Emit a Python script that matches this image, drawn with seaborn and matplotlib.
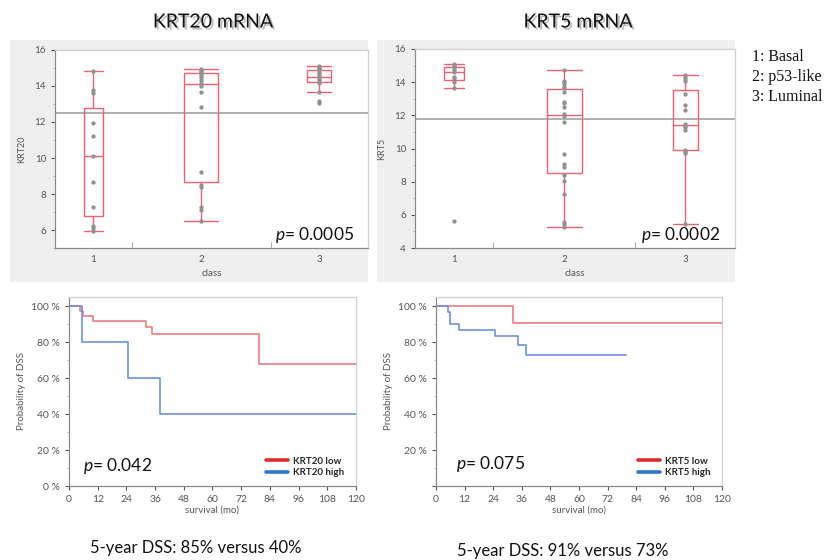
import numpy as np
import pandas as pd
import matplotlib
matplotlib.use("Agg")
import matplotlib.pyplot as plt
import matplotlib.patheffects as pe
from matplotlib.patches import Rectangle
from matplotlib.ticker import FuncFormatter, MultipleLocator, FixedLocator
import seaborn as sns

# ---------------- data ----------------
classes = ["1", "2", "3"]
class_sizes = [11, 20, 14]
class_legend = ["1: Basal", "2: p53-like", "3: Luminal"]

krt20_c1 = [14.85, 13.75, 13.6, 11.95, 11.2, 10.13, 8.65, 7.3, 6.24, 6.1, 5.93]
krt20_c2 = [6.5, 7.11, 7.3, 8.41, 8.5, 9.2, 12.81, 13.68, 14.0, 14.18, 14.33,
            14.48, 14.61, 14.74, 14.8, 14.85, 14.89, 14.93]
krt20_c3 = [13.04, 13.15, 13.68, 14.18, 14.3, 14.4, 14.48, 14.56, 14.65, 14.8,
            14.92, 14.98, 15.05, 15.11]
krt20_mean = 12.48
krt20_p = "0.0005"

krt5_c1 = [5.6, 13.64, 14.04, 14.25, 14.34, 14.6, 14.75, 14.85, 14.95, 15.0, 15.1]
krt5_c2 = [5.25, 5.45, 5.59, 7.27, 8.04, 8.38, 8.9, 9.09, 9.64, 11.61, 11.96,
           12.08, 12.52, 12.73, 12.83, 13.43, 13.63, 13.73, 13.9, 14.04, 14.1, 14.75]
krt5_c3 = [5.45, 9.73, 9.8, 9.85, 9.92, 11.11, 11.31, 11.35, 11.47, 12.32, 12.62,
           13.3, 14.1, 14.2, 14.3, 14.44]
krt5_mean = 11.79
krt5_p = "0.0002"

km20_low_t = [0, 4.8, 5.8, 10, 32, 34.5, 79.5, 120]
km20_low_s = [100, 97.5, 94.6, 91.9, 88.2, 84.5, 67.6, 67.6]
km20_high_t = [0, 5.5, 24.5, 38, 120]
km20_high_s = [100, 80, 60, 40, 40]
km20_p = "0.042"
km20_summary = "5-year DSS: 85% versus 40%"

km5_low_t = [0, 32.5, 120]
km5_low_s = [100, 90.7, 90.7]
km5_high_t = [0, 5.2, 5.9, 9.8, 24.8, 34.6, 37.8, 79.8]
km5_high_s = [100, 96.6, 90.1, 86.7, 83.2, 78.1, 72.9, 72.9]
km5_p = "0.075"
km5_summary = "5-year DSS: 91% versus 73%"

# ---------------- style ----------------
sns.set_style("ticks")
plt.rcParams["font.family"] = ["Lato", "DejaVu Sans"]
plt.rcParams["mathtext.fontset"] = "custom"
plt.rcParams["mathtext.it"] = "Lato:italic"
plt.rcParams["mathtext.rm"] = "Lato"

BOX_C = "#f0606f"
PT_C = "#929292"
RED = "#f07a84"
BLUE = "#6f90e0"
TICK_C = "#555555"

fig = plt.figure(figsize=(8.29, 5.60), dpi=100)
fig.patch.set_facecolor("white")

# grey JMP panels behind the top charts
for x0 in (10, 377):
    fig.add_artist(Rectangle((x0 / 829, 1 - 282 / 560), 358 / 829, 242 / 560,
                             transform=fig.transFigure, facecolor="#efefef",
                             edgecolor="none", zorder=0))

bounds = np.concatenate([[0], np.cumsum(class_sizes)])
centers = (bounds[:-1] + bounds[1:]) / 2


def style_spines(ax):
    for s in ("left", "bottom"):
        ax.spines[s].set_color("#8a8a8a")
    for s in ("top", "right"):
        ax.spines[s].set_color("#cfcfcf")
    for s in ax.spines.values():
        s.set_linewidth(0.9)
        s.set_visible(True)


def box_panel(rect, groups, mean, ylim, ylabel, pval):
    ax = fig.add_axes(rect)
    ax.set_facecolor("white")
    ax.axhline(mean, color="#9a9a9a", lw=1.1, zorder=1)
    for i, vals in enumerate(groups):
        df = pd.DataFrame({"x": np.full(len(vals), centers[i]), "y": vals})
        w = 0.25 * class_sizes[i]
        sns.boxplot(data=df, x="x", y="y", native_scale=True, width=w,
                    fill=False, color=BOX_C, linewidth=1.0, showfliers=False,
                    capwidths=w, ax=ax)
        sns.stripplot(data=df, x="x", y="y", native_scale=True, jitter=False,
                      color=PT_C, size=3.1, ax=ax, zorder=3, linewidth=0)
    ax.set_xlim(bounds[0], bounds[-1])
    ax.set_ylim(*ylim)
    ax.xaxis.set_major_locator(FixedLocator(centers))
    ax.set_xticklabels(classes)
    ax.xaxis.set_minor_locator(FixedLocator(bounds[1:-1]))
    ax.tick_params(axis="x", which="major", length=0, pad=5, labelsize=7, colors=TICK_C)
    ax.tick_params(axis="x", which="minor", length=4, color="#999999", direction="in")
    ax.yaxis.set_major_locator(MultipleLocator(2))
    ax.yaxis.set_minor_locator(MultipleLocator(1))
    ax.tick_params(axis="y", which="major", length=3, labelsize=7, colors=TICK_C)
    ax.tick_params(axis="y", which="minor", length=1.5, color="#aaaaaa")
    ax.set_xlabel("class", fontsize=7, color=TICK_C, labelpad=4)
    ax.set_ylabel(ylabel, fontsize=6.5, color=TICK_C, labelpad=6)
    style_spines(ax)
    ax.text(0.955, 0.065, r"$\mathit{p}$= " + pval, transform=ax.transAxes,
            ha="right", va="center", fontsize=12.5, color="#111111")
    return ax


box_panel([55 / 829, 1 - 248 / 560, 313 / 829, 198 / 560],
          [krt20_c1, krt20_c2, krt20_c3], krt20_mean, (5, 16), "KRT20", krt20_p)
box_panel([415 / 829, 1 - 248 / 560, 320 / 829, 199 / 560],
          [krt5_c1, krt5_c2, krt5_c3], krt5_mean, (4, 16), "KRT5", krt5_p)


def km_panel(rect, low_t, low_s, high_t, high_s, gene, pval, px, py, zero_label):
    ax = fig.add_axes(rect)
    df = pd.concat([
        pd.DataFrame({"time": low_t, "surv": low_s, "group": f"{gene} low"}),
        pd.DataFrame({"time": high_t, "surv": high_s, "group": f"{gene} high"}),
    ])
    sns.lineplot(data=df, x="time", y="surv", hue="group",
                 palette={f"{gene} low": RED, f"{gene} high": BLUE},
                 drawstyle="steps-post", estimator=None, linewidth=1.2, ax=ax)
    ax.set_xlim(0, 120)
    ax.set_ylim(0, 105)
    ax.xaxis.set_major_locator(MultipleLocator(12))
    ax.yaxis.set_major_locator(MultipleLocator(20))
    ax.yaxis.set_minor_locator(MultipleLocator(10))
    ax.yaxis.set_major_formatter(FuncFormatter(
        lambda v, _: ("0 %" if zero_label else "") if v == 0 else f"{int(v)} %"))
    ax.tick_params(axis="both", which="major", length=3, labelsize=7.5, colors=TICK_C)
    ax.tick_params(axis="y", which="minor", length=1.5, color="#aaaaaa")
    ax.set_xlabel("survival (mo)", fontsize=7, color=TICK_C, labelpad=1)
    ax.set_ylabel("Probability of DSS", fontsize=7, color=TICK_C, labelpad=4)
    style_spines(ax)
    h, l = ax.get_legend_handles_labels()
    for hh in h:
        hh.set_linewidth(2.6)
    ax.legend(h, l, loc="lower right", bbox_to_anchor=(0.99, 0.0), frameon=False,
              handlelength=2.3, handletextpad=0.5, labelspacing=0.25,
              prop={"size": 7, "weight": "bold"})
    leg = ax.get_legend()
    leg.get_lines()[0].set_color("#e02a2a")
    leg.get_lines()[1].set_color("#2f78c8")
    ax.text(px, py, r"$\mathit{p}$= " + pval, transform=ax.transAxes,
            ha="left", va="center", fontsize=12.5, color="#111111")
    return ax


km_panel([69 / 829, 1 - 486 / 560, 287 / 829, 189 / 560],
         km20_low_t, km20_low_s, km20_high_t, km20_high_s, "KRT20", km20_p,
         0.049, 0.106, True)
km_panel([436 / 829, 1 - 486 / 560, 286 / 829, 189 / 560],
         km5_low_t, km5_low_s, km5_high_t, km5_high_s, "KRT5", km5_p,
         0.07, 0.116, False)

shadow = [pe.SimplePatchShadow(offset=(1.5, -1.5), shadow_rgbFace=(0.55, 0.55, 0.55),
                               alpha=0.6), pe.Normal()]
fig.text(213 / 829, 1 - 22 / 560, "KRT20 mRNA", ha="center", va="center",
         fontsize=14, color="#111111", path_effects=shadow)
fig.text(578 / 829, 1 - 22 / 560, "KRT5 mRNA", ha="center", va="center",
         fontsize=14, color="#111111", path_effects=shadow)

for i, s in enumerate(class_legend):
    fig.text(752 / 829, 1 - (57 + 20 * i) / 560, s, ha="left", va="center",
             fontsize=11.5, family=["Liberation Serif", "DejaVu Serif"], color="#111111")

fig.text(196 / 829, 1 - 548 / 560, km20_summary, ha="center", va="center",
         fontsize=12, color="#111111")
fig.text(563 / 829, 1 - 551 / 560, km5_summary, ha="center", va="center",
         fontsize=12, color="#111111")

fig.savefig("out.png", dpi=100, facecolor="white")
